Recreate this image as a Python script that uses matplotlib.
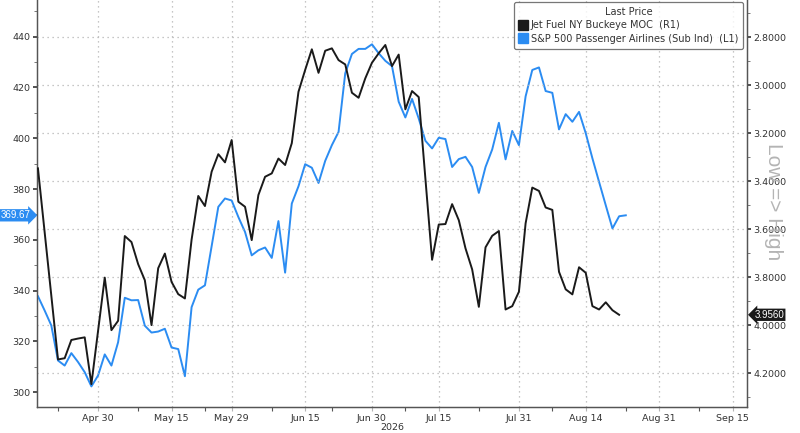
import matplotlib
matplotlib.use("Agg")
import matplotlib.pyplot as plt
import matplotlib.transforms as mtransforms
from matplotlib.ticker import MultipleLocator, FormatStrFormatter, FixedLocator, NullFormatter
from matplotlib.lines import Line2D
import pandas as pd

# ---------------- data ----------------
start_date = "2026-04-17"
end_date = "2026-09-18"
holidays = ["2026-05-25", "2026-06-19", "2026-07-03"]

airlines = [337.8, 332.2, 326.3, 312.5, 310.5, 315.4, 311.9, 307.9, 302.3, 306.6,
            314.9, 310.5, 319.7, 337.2, 336.2, 336.3, 326.2, 323.5, 323.9, 325.0,
            317.6, 317.0, 306.3, 333.5, 340.4, 342.1, 357.5, 373.0, 376.3, 375.5,
            369.0, 363.1, 353.9, 355.9, 357.0, 352.9, 367.4, 347.1, 374.3, 381.1,
            389.8, 388.4, 382.4, 391.1, 397.3, 402.5, 425.6, 433.2, 435.2, 435.2,
            437.0, 433.5, 430.5, 428.4, 414.4, 408.2, 415.5, 407.8, 399.0, 396.0,
            400.2, 399.7, 388.7, 391.8, 392.7, 388.7, 378.5, 388.7, 395.6, 406.1,
            391.7, 402.9, 397.3, 416.5, 426.9, 427.9, 418.6, 417.9, 403.5, 409.5,
            406.5, 410.4, 402.0, 392.1, 382.8, 373.6, 364.5, 369.3, 369.67]

jet_fuel = [3.346, 3.611, 3.876, 4.142, 4.137, 4.061, 4.055, 4.050, 4.245, 4.023,
            3.801, 4.020, 3.981, 3.628, 3.653, 3.745, 3.812, 3.999, 3.762, 3.701,
            3.819, 3.870, 3.888, 3.643, 3.461, 3.503, 3.360, 3.287, 3.321, 3.228,
            3.485, 3.506, 3.645, 3.457, 3.381, 3.367, 3.305, 3.332, 3.241, 3.027,
            2.936, 2.850, 2.948, 2.856, 2.846, 2.895, 2.913, 3.031, 3.052, 2.971,
            2.906, 2.867, 2.832, 2.920, 2.872, 3.100, 3.024, 3.049, 3.389, 3.727,
            3.580, 3.578, 3.495, 3.562, 3.679, 3.767, 3.923, 3.675, 3.627, 3.607,
            3.934, 3.920, 3.860, 3.575, 3.426, 3.440, 3.509, 3.519, 3.777, 3.850,
            3.871, 3.758, 3.781, 3.920, 3.934, 3.904, 3.937, 3.956]

tick_dates = ["2026-04-30", "2026-05-15", "2026-05-29", "2026-06-15", "2026-06-30",
              "2026-07-15", "2026-07-31", "2026-08-14", "2026-08-31", "2026-09-15"]
tick_labels = ["Apr 30", "May 15", "May 29", "Jun 15", "Jun 30",
               "Jul 15", "Jul 31", "Aug 14", "Aug 31", "Sep 15"]
minor_dates = ["2026-04-22", "2026-05-08", "2026-05-22", "2026-06-08", "2026-06-22",
               "2026-07-08", "2026-07-23", "2026-08-07", "2026-08-24", "2026-09-08"]

left_ticks = [300, 320, 340, 360, 380, 400, 420, 440]
right_ticks = [2.8, 3.0, 3.2, 3.4, 3.6, 3.8, 4.0, 4.2]

label_jet = "Jet Fuel NY Buckeye MOC  (R1)"
label_air = "S&P 500 Passenger Airlines (Sub Ind)  (L1)"

# ---------------- calendar ----------------
cal = pd.bdate_range(start_date, end_date, freq="C", holidays=holidays)
pos = {d.strftime("%Y-%m-%d"): i for i, d in enumerate(cal)}
x_air = list(range(len(airlines)))
x_jet = list(range(len(jet_fuel)))
major_pos = [pos[d] for d in tick_dates]
minor_pos = [pos[d] for d in minor_dates]

# ---------------- style ----------------
plt.rcParams["font.family"] = ["DejaVu Sans"]
BLUE = "#2b8cf2"
BLACK = "#1a1a1a"
GRID = "#b4b4b4"
TXT = "#333333"
FS = 6.8

fig = plt.figure(figsize=(8.0, 4.33), dpi=100)
ax = fig.add_axes([0.0466, 0.0607, 0.8868, 0.9393])
ax2 = ax.twinx()

ax.plot(x_air, airlines, color=BLUE, lw=1.4, zorder=3)
ax2.plot(x_jet, jet_fuel, color=BLACK, lw=1.4, zorder=3)

ax.set_xlim(-0.1, 106.1)
ax.set_ylim(294.3, 454.45)
ax2.set_ylim(4.339, 2.6446)

# x axis
ax.xaxis.set_major_locator(FixedLocator(major_pos))
ax.set_xticklabels(tick_labels)
ax.xaxis.set_minor_locator(FixedLocator(minor_pos))
ax.tick_params(axis="x", which="major", length=3, color=GRID, labelsize=FS,
               labelcolor=TXT, pad=2)
ax.tick_params(axis="x", which="minor", length=3, color="#555555", width=0.8)
ax.grid(axis="x", which="major", color=GRID, linestyle=(0, (1, 3)), linewidth=0.9)

# left axis
ax.yaxis.set_major_locator(FixedLocator(left_ticks))
ax.yaxis.set_minor_locator(MultipleLocator(10))
ax.yaxis.set_major_formatter(FormatStrFormatter("%d"))
ax.tick_params(axis="y", which="major", length=3, width=1.2, color="#333333",
               labelsize=FS, labelcolor=TXT, pad=2)
ax.tick_params(axis="y", which="minor", length=2, width=0.7, color="#777777")

# right axis
ax2.yaxis.set_major_locator(FixedLocator(right_ticks))
ax2.yaxis.set_minor_locator(MultipleLocator(0.1))
ax2.yaxis.set_major_formatter(FormatStrFormatter("%.4f"))
ax2.yaxis.set_minor_formatter(NullFormatter())
ax2.tick_params(axis="y", which="major", length=3, width=1.2, color="#333333",
                labelsize=FS, labelcolor=TXT, pad=2)
ax2.tick_params(axis="y", which="minor", length=2, width=0.7, color="#777777")
ax2.grid(axis="y", which="major", color=GRID, linestyle=(0, (1, 3)), linewidth=0.9)

for a in (ax, ax2):
    a.spines["top"].set_visible(False)
    for s in ("left", "right", "bottom"):
        a.spines[s].set_color("#555555")
        a.spines[s].set_linewidth(0.9)

# value boxes
tl = mtransforms.blended_transform_factory(ax.transAxes, ax.transData)
ax.text(-0.009, airlines[-1], f"{airlines[-1]:.2f}", transform=tl, ha="right",
        va="center", color="white", fontsize=7, zorder=10, clip_on=False,
        family="Liberation Sans",
        bbox=dict(boxstyle="rarrow,pad=0.12", fc=BLUE, ec="none"))
tr = mtransforms.blended_transform_factory(ax2.transAxes, ax2.transData)
ax2.text(1.011, jet_fuel[-1], f"{jet_fuel[-1]:.4f}", transform=tr, ha="left",
         va="center", color="white", fontsize=7, zorder=10, clip_on=False,
         family="Liberation Sans",
         bbox=dict(boxstyle="larrow,pad=0.12", fc=BLACK, ec="none"))

# legend
handles = [Line2D([], [], marker="s", linestyle="none", color=BLACK, markersize=6.5),
           Line2D([], [], marker="s", linestyle="none", color=BLUE, markersize=6.5)]
leg = ax2.legend(handles, [label_jet, label_air], title="Last Price",
                 loc="upper right", bbox_to_anchor=(0.995, 0.995), fontsize=FS + 0.2,
                 title_fontsize=FS + 0.2, frameon=True, fancybox=True,
                 handlelength=0.7, handletextpad=0.5, borderpad=0.5,
                 labelspacing=0.35, borderaxespad=0.0)
leg.get_frame().set_edgecolor("#555555")
leg.get_frame().set_linewidth(0.9)
leg.get_title().set_color(TXT)
for t in leg.get_texts():
    t.set_color(TXT)

fig.text(392 / 800, 1 - 427 / 433, "2026", ha="center", va="center",
         fontsize=FS, color=TXT)
fig.text(773 / 800, 1 - 202 / 433, "Low => High", ha="center", va="center",
         rotation=270, fontsize=15, color="#b4b4b4", family="Liberation Sans")

fig.savefig("out.png", dpi=100)
